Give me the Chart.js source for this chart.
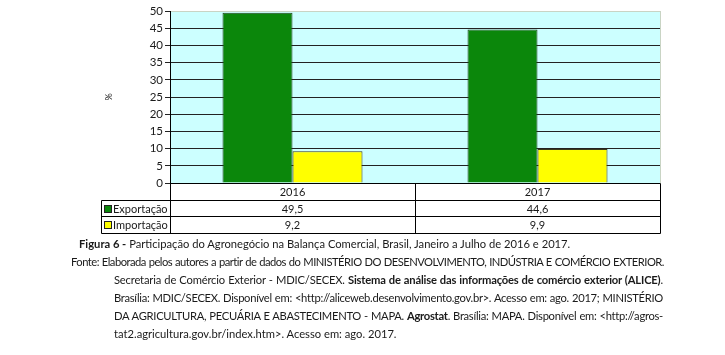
<!DOCTYPE html>
<html><head><meta charset="utf-8">
<script src="https://cdn.jsdelivr.net/npm/chart.js@4"></script>
<style>
html,body{margin:0;padding:0;background:#fff;width:725px;height:355px;overflow:hidden;}
#wrap{position:absolute;left:0;top:0;width:725px;height:240px;}
.cap{position:absolute;font-family:"Lato",sans-serif;font-size:11.2px;line-height:14px;color:#1a1a1a;white-space:nowrap;}
b{font-weight:bold;}
</style></head><body>
<div id="wrap"><canvas id="c" width="725" height="240"></canvas></div>
<div class="cap" style="left:79px;top:237px;"><b>Figura 6 -</b> Participação do Agronegócio na Balança Comercial, Brasil, Janeiro a Julho de 2016 e 2017.</div>
<div class="cap j" data-w="593" style="left:71px;top:255px;">Fonte: Elaborada pelos autores a partir de dados do MINISTÉRIO DO DESENVOLVIMENTO, INDÚSTRIA E COMÉRCIO EXTERIOR.</div>
<div class="cap j" data-w="549" style="left:114px;top:273px;">Secretaria de Comércio Exterior - MDIC/SECEX. <b>Sistema de análise das informações de comércio exterior (ALICE)</b>.</div>
<div class="cap j" data-w="549" style="left:114px;top:291px;">Brasília: MDIC/SECEX. Disponível em: &lt;http://aliceweb.desenvolvimento.gov.br&gt;. Acesso em: ago. 2017; MINISTÉRIO</div>
<div class="cap j" data-w="549" style="left:114px;top:309px;">DA AGRICULTURA, PECUÁRIA E ABASTECIMENTO - MAPA. <b>Agrostat</b>. Brasília: MAPA. Disponível em: &lt;http://agros-</div>
<div class="cap" style="left:114px;top:327px;">tat2.agricultura.gov.br/index.htm&gt;. Acesso em: ago. 2017.</div>
<script>
const categories = ['2016', '2017'];
const seriesNames = ['Exportação', 'Importação'];
const exportacao = [49.5, 44.6];
const importacao = [9.2, 9.9];
const yMin = 0, yMax = 50, yStep = 5;
const yTitle = '%';

// fit caption lines to their target widths (justified)
document.querySelectorAll('.cap.j').forEach(el => {
  const target = +el.dataset.w;
  const text = el.textContent;
  const spaces = (text.match(/ /g) || []).length;
  let natural = el.getBoundingClientRect().width;
  if (natural > target - spaces * 0.5) {
    const ls = (target - spaces * 0.5 - natural) / text.length;
    el.style.letterSpacing = ls + 'px';
    natural = el.getBoundingClientRect().width;
  }
  if (spaces) el.style.wordSpacing = ((target - natural) / spaces) + 'px';
});

const FONT = '"Lato", sans-serif';
const colors = ['#0b870b', '#ffff00'];
const fmt = v => String(v).replace('.', ',');

const plotBg = {
  id: 'plotBg',
  beforeDraw(chart) {
    const {ctx, chartArea: a} = chart;
    ctx.save();
    ctx.fillStyle = '#ccffff';
    ctx.fillRect(a.left, a.top, a.right - a.left, a.bottom - a.top);
    ctx.strokeStyle = '#c9d4c4';
    ctx.lineWidth = 1;
    ctx.beginPath();
    ctx.moveTo(a.right + 0.5, a.top);
    ctx.lineTo(a.right + 0.5, a.bottom);
    ctx.stroke();
    ctx.restore();
  }
};

const dataTable = {
  id: 'dataTable',
  afterDraw(chart) {
    const {ctx, chartArea: a} = chart;
    const xs = chart.scales.x;
    const n = categories.length;
    const catW = (a.right - a.left) / n;
    const legendLeft = 101;
    const rowH = 16.7;
    const r = [a.bottom, a.bottom + rowH, a.bottom + 2 * rowH, a.bottom + 3 * rowH].map(v => Math.round(v) + 0.5);
    const L = Math.round(a.left) + 0.5, R = Math.round(a.right) + 0.5;
    ctx.save();
    ctx.strokeStyle = '#000';
    ctx.lineWidth = 1;
    ctx.beginPath();
    ctx.moveTo(L, r[0]); ctx.lineTo(R, r[0]);
    for (let k = 1; k <= 3; k++) { ctx.moveTo(legendLeft + 0.5, r[k]); ctx.lineTo(R, r[k]); }
    ctx.moveTo(legendLeft + 0.5, r[1]); ctx.lineTo(legendLeft + 0.5, r[3]);
    ctx.moveTo(L, r[0]); ctx.lineTo(L, r[3]);
    for (let i = 1; i < n; i++) {
      const x = Math.round(a.left + catW * i) + 0.5;
      ctx.moveTo(x, r[0]); ctx.lineTo(x, r[3]);
    }
    ctx.moveTo(R, r[0]); ctx.lineTo(R, r[3]);
    ctx.stroke();

    ctx.fillStyle = '#1a1a1a';
    ctx.font = '11px ' + FONT;
    ctx.textAlign = 'center';
    ctx.textBaseline = 'middle';
    const series = [exportacao, importacao];
    categories.forEach((c, i) => {
      const cx = xs.getPixelForValue(i);
      ctx.fillText(c, cx, (r[0] + r[1]) / 2 + 0.5);
      series.forEach((s, j) => ctx.fillText(fmt(s[i]), cx, (r[j + 1] + r[j + 2]) / 2 + 0.5));
    });
    ctx.textAlign = 'left';
    seriesNames.forEach((name, j) => {
      const cy = (r[j + 1] + r[j + 2]) / 2;
      ctx.fillStyle = colors[j];
      ctx.fillRect(104, Math.round(cy) - 4, 8, 8);
      ctx.strokeStyle = '#222';
      ctx.strokeRect(104.5, Math.round(cy) - 3.5, 7, 7);
      ctx.fillStyle = '#1a1a1a';
      ctx.fillText(name, 113, cy + 0.5);
    });
    ctx.restore();
  }
};

new Chart(document.getElementById('c'), {
  type: 'bar',
  data: {
    labels: categories,
    datasets: [
      {label: seriesNames[0], data: exportacao, backgroundColor: colors[0], borderColor: '#23401f', borderWidth: 1},
      {label: seriesNames[1], data: importacao, backgroundColor: colors[1], borderColor: '#3a3a1a', borderWidth: 1}
    ]
  },
  options: {
    responsive: false,
    animation: false,
    events: [],
    layout: {padding: {left: 100, right: 65, top: 11, bottom: 57}},
    datasets: {bar: {categoryPercentage: 140 / 245, barPercentage: 1.0}},
    plugins: {legend: {display: false}, tooltip: {enabled: false}},
    scales: {
      x: {display: false},
      y: {
        min: yMin, max: yMax,
        afterFit(scale) { scale.width = 70; },
        ticks: {stepSize: yStep, autoSkip: false, padding: 2, color: '#1a1a1a', font: {family: FONT, size: 11.5}},
        grid: {
          color: ctx => (ctx.tick && ctx.tick.value === yMax) ? '#c9d4c4' : '#222',
          tickColor: '#222',
          tickLength: 5,
          lineWidth: 1
        },
        border: {display: true, color: '#000', width: 1},
        title: {display: true, text: yTitle, color: '#1a1a1a', font: {family: FONT, size: 9}, padding: {top: 4, bottom: 0}}
      }
    }
  },
  plugins: [plotBg, dataTable]
});
</script>
</body></html>
